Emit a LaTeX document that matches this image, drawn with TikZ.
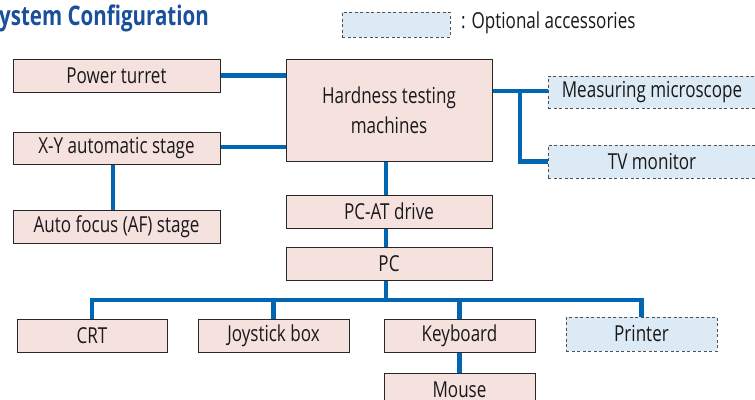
\documentclass[tikz,border=0pt]{standalone}
\usepackage{fontspec}
\setmainfont[FakeStretch=0.775]{Open Sans}
\newfontfamily\titlefont[FakeStretch=0.76]{Open Sans}
\usetikzlibrary{calc}
\definecolor{boxfill}{RGB}{245,226,223}
\definecolor{boxline}{RGB}{40,40,40}
\definecolor{optfill}{RGB}{220,234,245}
\definecolor{optline}{RGB}{80,80,80}
\definecolor{conn}{RGB}{0,102,179}
\definecolor{titleblue}{RGB}{26,79,156}
\tikzset{
  unit/.style={draw=boxline, fill=boxfill, line width=1pt, inner sep=0pt, align=center,
    font=\fontsize{22}{30}\selectfont, text=black!90},
  optunit/.style={unit, draw=optline, fill=optfill, dashed, dash pattern=on 3pt off 2.5pt},
  link/.style={draw=conn, line width=4.5pt, line join=miter},
}
\begin{document}
\begin{tikzpicture}[x=1pt,y=-1pt]
\useasboundingbox (0,0) rectangle (755,399);
% title and legend
\node[anchor=west, inner sep=0pt, text=titleblue, font=\titlefont\bfseries\fontsize{27}{32}\selectfont] (title) at (-1,18) {ystem Configuration};
\node[optunit, minimum width=108pt, minimum height=25pt] (legend) at (396,24.5) {};
\node[anchor=west, inner sep=0pt, font=\fontsize{22}{26}\selectfont, text=black!90] (legtext) at (461,23) {: Optional accessories};
% units
\node[unit, minimum width=207pt, minimum height=33pt] (pt) at (116.5,75.5) {Power turret};
\node[unit, minimum width=207pt, minimum height=32pt] (xy) at (116.5,148) {X-Y automatic stage};
\node[unit, minimum width=207pt, minimum height=33pt] (af) at (116.5,226.5) {Auto focus (AF) stage};
\node[unit, minimum width=206pt, minimum height=102pt] (hm) at (389,110) {Hardness testing\\machines};
\node[unit, minimum width=206pt, minimum height=33pt] (pcat) at (389,211.5) {PC-AT drive};
\node[unit, minimum width=206pt, minimum height=33pt] (pc) at (389,263.5) {PC};
\node[unit, minimum width=150pt, minimum height=33pt] (crt) at (92,335.5) {CRT};
\node[unit, minimum width=151pt, minimum height=33pt] (joy) at (273.5,335.5) {Joystick box};
\node[unit, minimum width=151pt, minimum height=33pt] (kb) at (459.5,335.5) {Keyboard};
\node[optunit, minimum width=151pt, minimum height=34pt] (pr) at (641.5,334) {Printer};
\node[unit, minimum width=151pt, minimum height=33pt] (mouse) at (459.5,389.5) {Mouse};
\node[optunit, minimum width=208pt, minimum height=32pt] (mm) at (652,92) {Measuring microscope};
\node[optunit, minimum width=208pt, minimum height=33pt] (tv) at (652,161.5) {TV monitor};
% junctions
\coordinate (bus) at (386,300);
\coordinate (fork) at (520,91);
% connectors
\draw[link] (pt.east) -- (pt.east -| hm.west);
\draw[link] (xy.east |- 0,147) -- (hm.west |- 0,147);
\draw[link] (xy.south -| 113,0) -- (af.north -| 113,0);
\draw[link] (hm.south -| bus) -- (pcat.north -| bus);
\draw[link] (pcat.south -| bus) -- (pc.north -| bus);
\draw[link] (pc.south -| bus) -- (bus);
\draw[link] (crt.north) |- (bus) -| (pr.north);
\draw[link] (joy.north) -- (joy.north |- bus);
\draw[link] (kb.north) -- (kb.north |- bus);
\draw[link] (kb.south) -- (mouse.north);
\draw[link] (hm.east |- fork) -- (mm.west |- fork);
\draw[link] (fork) |- (tv.west);
\end{tikzpicture}
\end{document}
